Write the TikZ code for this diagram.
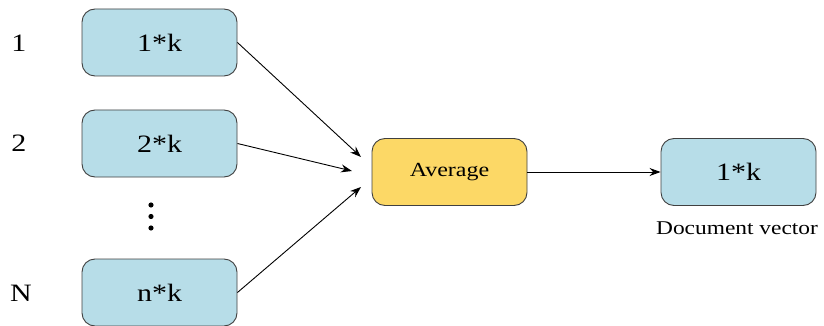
\documentclass[tikz,border=0pt]{standalone}
\usepackage{fontspec}
\setmainfont{Liberation Serif}
\usetikzlibrary{arrows.meta}
\definecolor{boxblue}{HTML}{B7DDE8}
\definecolor{boxgold}{HTML}{FCD866}
\definecolor{edgegray}{HTML}{404040}
\tikzset{
  vecbox/.style={draw=edgegray, line width=0.9pt, fill=boxblue, rounded corners=13pt,
    minimum width=155pt, minimum height=67pt, inner sep=0pt,
    font=\fontsize{25}{30}\selectfont},
  avgbox/.style={vecbox, fill=boxgold, font=\fontsize{20}{24}\selectfont},
  idxlabel/.style={inner sep=0pt, font=\fontsize{25}{30}\selectfont},
  caption/.style={inner sep=0pt, font=\fontsize{19.5}{24}\selectfont},
  flow/.style={line width=0.9pt, -{Stealth[length=11pt,width=8pt]}},
}
% text is set slightly widened
\newcommand{\wtxt}[1]{\scalebox{1.2}[1]{#1}}
\begin{document}
\begin{tikzpicture}[x=1pt,y=-1pt]
  \useasboundingbox (0,0) rectangle (824,326);
  % input word vectors
  \node[vecbox] (v1) at (159.5,42.5) {\wtxt{1*k}};
  \node[vecbox] (v2) at (159.5,143.5) {\wtxt{2*k}};
  \node[vecbox] (vn) at (159.5,292.5) {\wtxt{n*k}};
  % row indices
  \node[idxlabel] (l1) at (19,43) {\wtxt{1}};
  \node[idxlabel] (l2) at (19,143) {\wtxt{2}};
  \node[idxlabel] (ln) at (21,293) {\wtxt{N}};
  % vertical ellipsis
  \foreach \yy/\nm in {205/d1,216.5/d2,228/d3}
    \fill (151,\yy) circle (2.6pt) coordinate (\nm);
  % averaging and result
  \node[avgbox] (avg) at (449.5,172) {\wtxt{Average}};
  \node[vecbox] (out) at (738.5,172) {\wtxt{1*k}};
  \node[caption] (cap) at (737,228) {\wtxt{Document vector}};
  % arrow tips in front of the averaging box
  \coordinate (t1) at (361,157);
  \coordinate (t2) at (352,171);
  \coordinate (tn) at (361,187);
  \draw[flow] (v1.east) -- (t1);
  \draw[flow] (v2.east) -- (t2);
  \draw[flow] (vn.east) -- (tn);
  \draw[flow] (avg.east) -- (out.west);
\end{tikzpicture}
\end{document}
